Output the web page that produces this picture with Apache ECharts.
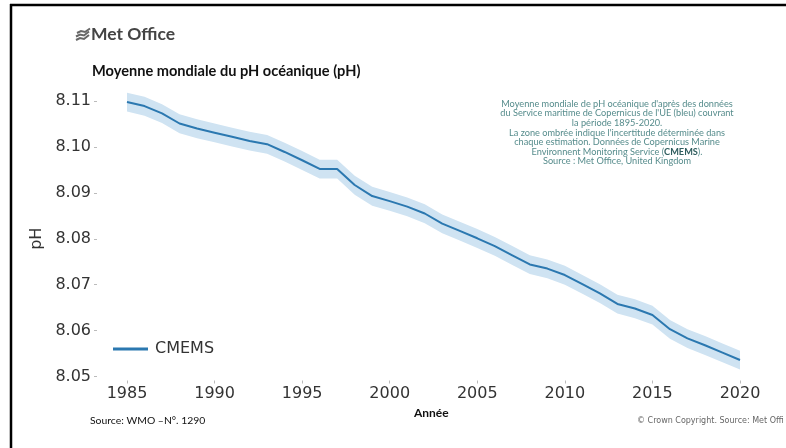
<!DOCTYPE html>
<html>
<head>
<meta charset="utf-8">
<script src="https://cdn.jsdelivr.net/npm/echarts@6/dist/echarts.min.js"></script>
<style>
  html, body { margin: 0; padding: 0; background: #fff; }
  #chart { width: 786px; height: 448px; }
</style>
</head>
<body>
<div id="chart"></div>
<script>
// Global mean ocean surface pH, CMEMS reanalysis, 1985-2020
const years = ['1985','1986','1987','1988','1989','1990','1991','1992','1993','1994',
  '1995','1996','1997','1998','1999','2000','2001','2002','2003','2004',
  '2005','2006','2007','2008','2009','2010','2011','2012','2013','2014',
  '2015','2016','2017','2018','2019','2020'];

const phMean = [8.1098, 8.1089, 8.1073, 8.1051, 8.1040, 8.1031, 8.1022, 8.1013, 8.1006, 8.0989,
  8.0971, 8.0952, 8.0952, 8.0917, 8.0893, 8.0882, 8.0870, 8.0855, 8.0833, 8.0817,
  8.0801, 8.0784, 8.0764, 8.0744, 8.0735, 8.0721, 8.0701, 8.0681, 8.0658, 8.0648,
  8.0634, 8.0603, 8.0583, 8.0568, 8.0552, 8.0536];

// Uncertainty envelope (upper / lower bounds)
const phUpper = [8.1118, 8.1109, 8.1093, 8.1071, 8.1060, 8.1051, 8.1042, 8.1033, 8.1026, 8.1009,
  8.0991, 8.0972, 8.0972, 8.0937, 8.0913, 8.0902, 8.0890, 8.0875, 8.0853, 8.0837,
  8.0821, 8.0804, 8.0784, 8.0764, 8.0755, 8.0741, 8.0721, 8.0701, 8.0678, 8.0668,
  8.0654, 8.0623, 8.0603, 8.0588, 8.0572, 8.0556];

const phLower = [8.1077, 8.1068, 8.1052, 8.1030, 8.1019, 8.1010, 8.1001, 8.0992, 8.0985, 8.0968,
  8.0950, 8.0931, 8.0931, 8.0896, 8.0872, 8.0861, 8.0849, 8.0834, 8.0812, 8.0796,
  8.0780, 8.0763, 8.0743, 8.0723, 8.0714, 8.0700, 8.0680, 8.0660, 8.0637, 8.0627,
  8.0613, 8.0582, 8.0562, 8.0547, 8.0531, 8.0515];

const yTicks = { min: 8.05, max: 8.11, step: 0.01 };

const noteLines = [
  "Moyenne mondiale de pH océanique d'après des données",
  "du Service maritime de Copernicus de l'UE (bleu) couvrant",
  "la période 1895-2020.",
  "La zone ombrée indique l'incertitude déterminée dans",
  "chaque estimation. Données de Copernicus Marine",
  "Environnent Monitoring Service ({b|CMEMS}).",
  "Source : Met Office, United Kingdom"
];

const bandWidth = phUpper.map((u, i) => +(u - phLower[i]).toFixed(4));

const LINE_BLUE = '#2b78b0';
const BAND_BLUE = '#cfe3f2';
const TICK_FONT = 'DejaVu Sans';
const TEXT_FONT = 'Lato';

const chart = echarts.init(document.getElementById('chart'), null, { renderer: 'canvas' });

chart.setOption({
  backgroundColor: '#ffffff',
  animation: false,
  grid: { left: 127, right: 46, top: 101, bottom: 71.5 },
  legend: {
    data: [{ name: 'CMEMS', icon: 'rect' }],
    left: 108,
    top: 336,
    itemWidth: 35,
    itemHeight: 3,
    itemGap: 10,
    textStyle: { fontFamily: TICK_FONT, fontSize: 16, color: '#333', padding: [0, 0, 0, 2] },
    itemStyle: { color: LINE_BLUE }
  },
  xAxis: {
    type: 'category',
    data: years,
    boundaryGap: false,
    offset: 4,
    axisLine: { show: false },
    axisTick: { show: true, length: 3, interval: 4, lineStyle: { color: '#bbb' } },
    axisLabel: { interval: 4, margin: 5, fontFamily: TICK_FONT, fontSize: 16, color: '#333' },
    splitLine: { show: false }
  },
  yAxis: {
    type: 'value',
    min: yTicks.min,
    max: yTicks.max,
    interval: yTicks.step,
    offset: 30,
    name: 'pH',
    nameLocation: 'middle',
    nameRotate: 90,
    nameGap: 45,
    nameTextStyle: { fontFamily: TICK_FONT, fontSize: 16, color: '#333' },
    axisLine: { show: false },
    axisTick: { show: true, length: 3, lineStyle: { color: '#bbb' } },
    axisLabel: {
      margin: 6,
      fontFamily: TICK_FONT,
      fontSize: 16,
      color: '#333',
      formatter: v => v.toFixed(2)
    },
    splitLine: { show: false }
  },
  series: [
    {
      name: 'lowerBound',
      type: 'line',
      stack: 'band',
      data: phLower,
      symbol: 'none',
      clip: false,
      lineStyle: { opacity: 0 },
      silent: true
    },
    {
      name: 'uncertainty',
      type: 'line',
      stack: 'band',
      data: bandWidth,
      symbol: 'none',
      clip: false,
      lineStyle: { opacity: 0 },
      areaStyle: { color: BAND_BLUE, opacity: 1 },
      silent: true
    },
    {
      name: 'CMEMS',
      type: 'line',
      data: phMean,
      symbol: 'none',
      clip: false,
      color: LINE_BLUE,
      lineStyle: { color: LINE_BLUE, width: 2 }
    }
  ],
  graphic: [
    // frame
    { type: 'line', shape: { x1: 10, y1: 5, x2: 786, y2: 5 }, style: { stroke: '#000', lineWidth: 2.5 } },
    { type: 'line', shape: { x1: 11, y1: 4, x2: 11, y2: 448 }, style: { stroke: '#000', lineWidth: 2.5 } },
    // Met Office mark
    { type: 'polyline', shape: { points: [[76, 40], [80, 38], [84, 39], [89, 35]] }, style: { stroke: '#666', lineWidth: 2, fill: null } },
    { type: 'polyline', shape: { points: [[76, 36.5], [80, 34.5], [84, 35.5], [89, 31.5]] }, style: { stroke: '#666', lineWidth: 2, fill: null } },
    { type: 'polyline', shape: { points: [[77, 33], [81, 31], [85, 32], [90, 28.5]] }, style: { stroke: '#666', lineWidth: 2, fill: null } },
    {
      type: 'text', left: 91, top: 25,
      style: { text: 'Met Office', fontFamily: TEXT_FONT, fontWeight: 'bold', fontSize: 17.5, fill: '#444' }
    },
    {
      type: 'text', left: 92, top: 64,
      style: { text: 'Moyenne mondiale du pH océanique (pH)', fontFamily: TEXT_FONT, fontWeight: 'bold', fontSize: 14.6, fill: '#111' }
    },
    {
      type: 'text', x: 617, y: 99,
      style: {
        text: noteLines.join('\n'),
        align: 'center',
        verticalAlign: 'top',
        fontFamily: TEXT_FONT,
        fontSize: 9.2,
        lineHeight: 9.6,
        fill: '#568c8c',
        rich: { b: { fontFamily: TEXT_FONT, fontSize: 9.2, fontWeight: 'bold', fill: '#2f5d5e', lineHeight: 9.6 } }
      }
    },
    {
      type: 'text', left: 90, top: 416,
      style: { text: 'Source: WMO –N°. 1290', fontFamily: TEXT_FONT, fontSize: 10.4, fill: '#111' }
    },
    {
      type: 'text', left: 414, top: 407,
      style: { text: 'Année', fontFamily: TEXT_FONT, fontWeight: 'bold', fontSize: 12, fill: '#111' }
    },
    {
      type: 'text', left: 637, top: 417,
      style: { text: '© Crown Copyright. Source: Met Offi', fontFamily: TICK_FONT, fontSize: 8, fill: '#666' }
    }
  ]
});
</script>
</body>
</html>
